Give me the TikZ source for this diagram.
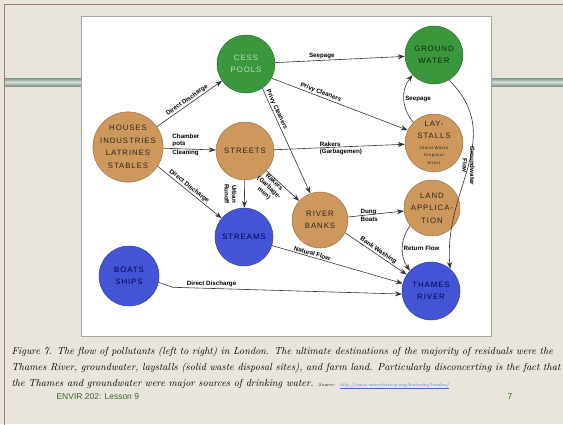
\documentclass[tikz,border=0pt]{standalone}
\usepackage{fontspec}
\setsansfont{Liberation Sans}
\newfontfamily\circfont[LetterSpace=12]{Liberation Sans}
\usetikzlibrary{
	positioning,
	arrows.meta
}
\definecolor{cessgreen}{HTML}{3B973B}
\definecolor{soiltan}{HTML}{CE985C}
\definecolor{riverblue}{HTML}{4355D5}
\definecolor{slidebg}{HTML}{EAE5DC}
\definecolor{barshade}{HTML}{7E9688}
\definecolor{barlight}{HTML}{D3DED7}
\definecolor{lessongreen}{HTML}{2F6B1F}
\definecolor{linkblue}{HTML}{3D6FD0}
\tikzset{
	flowtip/.style={
		-{Stealth[length=7pt,width=5pt]}
	},
	every edge/.append style={
		flowtip, draw=black!80, line width=0.6pt
	},
	site/.style={
		circle, draw=#1!75!black, fill=#1, line width=0.5pt,
		minimum size=58pt, inner sep=0pt, align=center,
		font=\circfont\fontsize{7.8}{12.5}\selectfont
	},
	flowlabel/.style={
		font=\sffamily\bfseries\fontsize{6.2}{7.5}\selectfont, inner sep=1pt
	}
}

\begin{document}
\begin{tikzpicture}[x=1pt,y=1pt]
	\useasboundingbox (0,0) rectangle (563,-424);
	% slide
	\fill[slidebg] (0,0) rectangle (563,-424);
	\draw[brown!45!gray, line width=1pt] (4.5,-430) -- (4.5,-4.5) -- (570,-4.5);
	\shade[top color=barshade, bottom color=barshade, middle color=barlight] (5,-78) rectangle (81,-86);
	\shade[top color=barshade, bottom color=barshade, middle color=barlight] (491,-78) rectangle (563,-86);
	\draw[gray!70, fill=white] (81,-16) rectangle (491,-336);

	\draw
		node[site=soiltan, minimum size=66pt, text=black!85]    (houses)  at (128,-147) {HOUSES\\INDUSTRIES\\LATRINES\\STABLES}
		node[site=cessgreen, text=white!70!cessgreen]          (cess)    at (246,-64)  {CESS\\POOLS}
		node[site=soiltan, text=black!85]                       (streets) at (245,-151) {STREETS}
		node[site=cessgreen, text=black!75!cessgreen]          (ground)  at (434,-55)  {GROUND\\WATER}
		node[site=soiltan, text=black!85]                       (lay)     at (434,-143) {LAY-\\STALLS\\[-2pt]{\fontsize{4.2}{6}\selectfont (Solid Waste}\\[-5pt]{\fontsize{4.2}{6}\selectfont Disposal}\\[-5pt]{\fontsize{4.2}{6}\selectfont Sites)}}
		node[site=soiltan, minimum size=56pt, text=black!85]    (river)   at (320,-220) {RIVER\\BANKS}
		node[site=soiltan, minimum size=56pt, text=black!85]    (land)    at (432,-208) {LAND\\APPLICA-\\TION}
		node[site=riverblue, text=blue!30!black]                (streams) at (244,-237) {STREAMS}
		node[site=riverblue, minimum size=60pt, text=blue!30!black] (boats) at (129,-276) {BOATS\\SHIPS}
		node[site=riverblue, text=blue!30!black]                (thames)  at (431,-291) {THAMES\\RIVER}

		(houses)       edge[above, sloped]  node[flowlabel] {Direct Discharge} (cess)
		(houses)       edge                 node[flowlabel, above right, pos=0.15, align=left] {Chamber\\pots}
		                                    node[flowlabel, below right, pos=0.15] {Cleaning} (streets)
		(houses.-33)   edge[above, sloped]  node[flowlabel, pos=0.45] {Direct Discharge} (streams.140)
		(cess)         edge[above]          node[flowlabel, pos=0.36] {Seepage} (ground)
		(cess.-29)     edge[above, sloped]  node[flowlabel, pos=0.35] {Privy Cleaners} (lay.154)
		(cess.-56)     edge[above, sloped]  node[flowlabel, pos=0.22] {Privy Cleaners} (river.110)
		(streets)      edge                 node[flowlabel, above right, pos=0.34] {Rakers}
		                                    node[flowlabel, below right, pos=0.34] {(Garbagemen)} (lay)
		(streets)      edge                 node[flowlabel, xshift=-14pt, rotate=-90, align=center] {Urban\\Runoff} (streams)
		(streets)      edge[below, sloped]  node[flowlabel, align=center, pos=0.3, inner sep=0pt] {Rakers\\(Garbage-\\men)} (river)
		(lay.135)      edge[bend left=40]   node[flowlabel, right] {Seepage} (ground.223)
		(ground.-59)   edge[out=-45, in=95, looseness=1.1] node[flowlabel, rotate=-90, align=center] {Groundwater\\Flow} (thames.49)
		(river)        edge                 node[flowlabel, above right, pos=0.2] {Dung}
		                                    node[flowlabel, below right, pos=0.2] {Boats} (land)
		(river.-27)    edge[above, sloped]  node[flowlabel] {Bank Washing} (thames.146)
		(streams.-17)  edge[above, sloped]  node[flowlabel, pos=0.3] {Natural Flow} (thames.165)
		(land.219)     edge[bend right=35]  node[flowlabel, right] {Return Flow} (thames.136)
	;
	\draw[flowtip, draw=black!80, line width=0.6pt] (boats.-12) -- ++(14,-5)
		-- node[flowlabel, above, pos=0.17] {Direct Discharge} (thames.186);

	% caption
	\node[anchor=west, font=\itshape\fontsize{10.2}{11}\selectfont] (capA) at (8,-352)
		{Figure 7. The flow of pollutants (left to right) in London. The ultimate destinations of the majority of residuals were the};
	\node[anchor=west, font=\itshape\fontsize{10.2}{11}\selectfont] (capB) at (8,-368)
		{Thames River, groundwater, laystalls (solid waste disposal sites), and farm land. Particularly disconcerting is the fact that};
	\node[anchor=west, font=\itshape\fontsize{10.2}{11}\selectfont] (capC) at (8,-384)
		{the Thames and groundwater were major sources of drinking water. {\fontsize{4.5}{5}\selectfont Source:} {\fontsize{4.5}{5}\selectfont\color{linkblue}\underline{http://www.waterhistory.org/histories/london/}}};
	\node[anchor=west, text=lessongreen, font=\sffamily\fontsize{8.5}{10}\selectfont] (lesson) at (53,-397) {ENVIR 202: Lesson 9};
	\node[text=lessongreen, font=\sffamily\fontsize{8.5}{10}\selectfont] (pagenum) at (510,-397) {7};
\end{tikzpicture}
\end{document}
